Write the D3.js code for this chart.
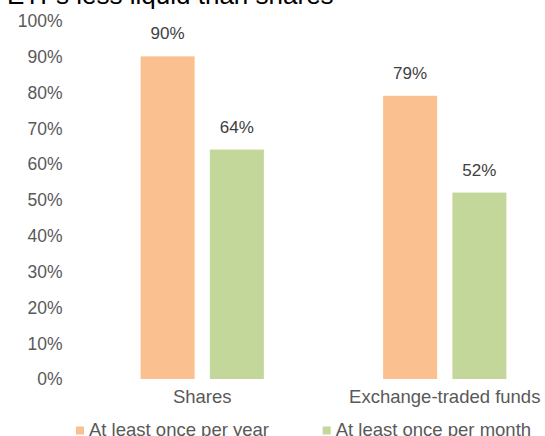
<!DOCTYPE html>
<html>
<head>
<meta charset="utf-8">
<script src="https://cdn.jsdelivr.net/npm/d3@7"></script>
<style>
  html, body { margin: 0; padding: 0; background: #fff; }
  svg { display: block; }
  text { font-family: "Liberation Sans", Arial, sans-serif; }
</style>
</head>
<body>
<svg id="chart" width="545" height="436"></svg>
<script>
const title = "ETFs less liquid than shares";
const categories = ["Shares", "Exchange-traded funds"];
const seriesNames = ["At least once per year", "At least once per month"];
const perYear = [90, 79];
const perMonth = [64, 52];
const yTicks = [0, 10, 20, 30, 40, 50, 60, 70, 80, 90, 100];
const colors = ["#FAC090", "#C4D79B"];

const seriesValues = [perYear, perMonth];
const rows = categories.map((c, i) => ({
  category: c,
  values: seriesNames.map((s, j) => ({ series: s, idx: j, value: seriesValues[j][i] }))
}));

const svg = d3.select("#chart");

const x0 = d3.scaleBand().domain(categories).range([81, 566]).paddingInner(0.4916).paddingOuter(0.2458);
const x1 = d3.scaleBand().domain(seriesNames).range([0, x0.bandwidth()]).paddingInner(0.22);
const y = d3.scaleLinear().domain([0, 100]).range([379, 20.5]);

// Title (partially cut off at the top, as in the reference)
svg.append("text")
  .attr("x", 7).attr("y", 4)
  .attr("font-size", 26).attr("fill", "#000")
  .text(title);

// Y axis (labels only)
const yAxis = d3.axisLeft(y).tickValues(yTicks).tickFormat(d => d + "%").tickSize(0).tickPadding(0);
const gy = svg.append("g").attr("transform", "translate(62.5,0)").call(yAxis);
gy.select(".domain").remove();
gy.selectAll("text")
  .attr("font-family", "Liberation Sans, Arial, sans-serif")
  .attr("font-size", 17.5).attr("fill", "#595959")
  .attr("dy", "0.34em");

// Bars
const groups = svg.append("g").selectAll("g").data(rows).join("g")
  .attr("transform", d => `translate(${x0(d.category)},0)`);

groups.selectAll("rect").data(d => d.values).join("rect")
  .attr("x", d => x1(d.series))
  .attr("width", x1.bandwidth())
  .attr("y", d => y(d.value))
  .attr("height", d => y(0) - y(d.value))
  .attr("fill", d => colors[d.idx]);

groups.selectAll("text.lbl").data(d => d.values).join("text")
  .attr("class", "lbl")
  .attr("x", d => x1(d.series) + x1.bandwidth() / 2)
  .attr("y", d => y(d.value) - 17)
  .attr("text-anchor", "middle")
  .attr("font-size", 17).attr("fill", "#404040")
  .text(d => d.value + "%");

// X axis category labels
const xAxis = d3.axisBottom(x0).tickSize(0).tickPadding(0);
const gx = svg.append("g").attr("transform", "translate(0,379)").call(xAxis);
gx.select(".domain").remove();
gx.selectAll("text")
  .attr("font-family", "Liberation Sans, Arial, sans-serif")
  .attr("font-size", 18.5).attr("fill", "#595959")
  .attr("dy", null).attr("y", 24);

// Legend
const legendX = [76, 322.7];
const leg = svg.append("g").selectAll("g").data(seriesNames).join("g")
  .attr("transform", (d, i) => `translate(${legendX[i]},0)`);
leg.append("rect").attr("x", 0).attr("y", 426.5).attr("width", 8).attr("height", 8)
  .attr("fill", (d, i) => colors[i]);
leg.append("text").attr("x", 13).attr("y", 436)
  .attr("font-size", 18.5).attr("fill", "#595959")
  .text(d => d);
</script>
</body>
</html>
